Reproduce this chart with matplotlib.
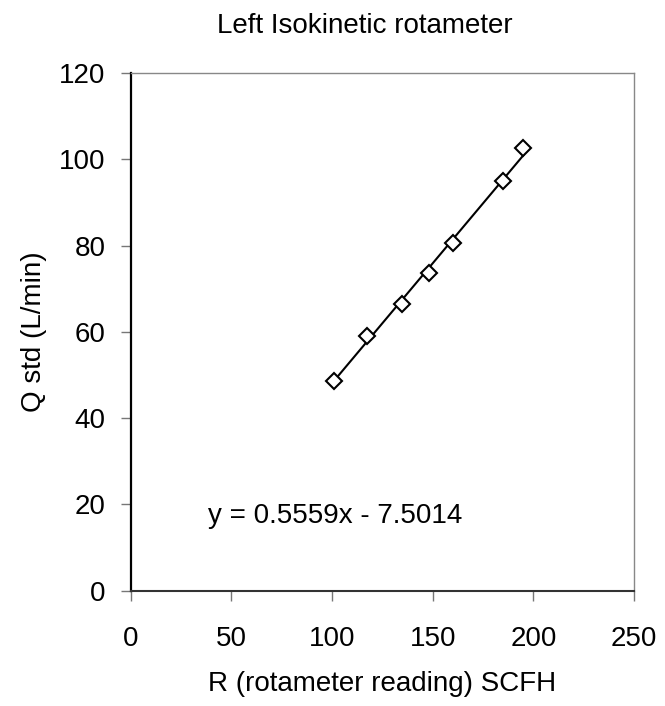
import numpy as np
import matplotlib.pyplot as plt

# rotameter reading (SCFH) vs standard flow (L/min)
R = [100.8, 117.4, 134.8, 148.0, 160.1, 184.7, 195.1]
Q = [48.6, 59.0, 66.4, 73.7, 80.7, 95.0, 102.5]
slope = 0.5559
intercept = -7.5014
xticks = [0, 50, 100, 150, 200, 250]
yticks = [0, 20, 40, 60, 80, 100, 120]

plt.rcParams['font.family'] = ['Liberation Sans', 'DejaVu Sans']

W, H = 665, 706
fig = plt.figure(figsize=(W / 100, H / 100), dpi=100)
ax = fig.add_axes([130.7 / W, 1 - 590.7 / H, 503.3 / W, 517.7 / H])

xfit = np.array([min(R), max(R)])
ax.plot(xfit, slope * xfit + intercept, color='black', lw=1.5, zorder=2)
ax.plot(R, Q, 'D', markersize=8, markerfacecolor='white',
        markeredgecolor='black', markeredgewidth=1.5, zorder=3)

ax.set_xlim(0, 250)
ax.set_ylim(0, 120)
ax.set_xticks(xticks)
ax.set_yticks(yticks)
ax.tick_params(axis='both', labelsize=20, direction='out', length=7.2,
               color='#777777', width=1.0)
ax.tick_params(axis='x', pad=18)
ax.tick_params(axis='y', pad=10.8)

for s in ['top', 'right']:
    ax.spines[s].set_color('#888888')
    ax.spines[s].set_linewidth(1.0)
ax.spines['left'].set_color('black')
ax.spines['left'].set_linewidth(1.6)
ax.spines['bottom'].set_color('#333333')
ax.spines['bottom'].set_linewidth(1.5)

ax.set_xlabel('R (rotameter reading) SCFH', fontsize=20, va='top')
ax.xaxis.set_label_coords(0.5, (590.7 - 671) / 517.7)
ax.set_ylabel('Q std (L/min)', fontsize=20)
ax.yaxis.set_label_coords((47 - 130.7) / 503.3, 0.5)

fig.text(365 / W, 1 - 33 / H, 'Left Isokinetic rotameter', fontsize=20,
         ha='center', va='baseline')

ax.text(38.2, 15.7, 'y = 0.5559x - 7.5014', fontsize=20, va='baseline', ha='left')

fig.savefig('out.png', dpi=100)
